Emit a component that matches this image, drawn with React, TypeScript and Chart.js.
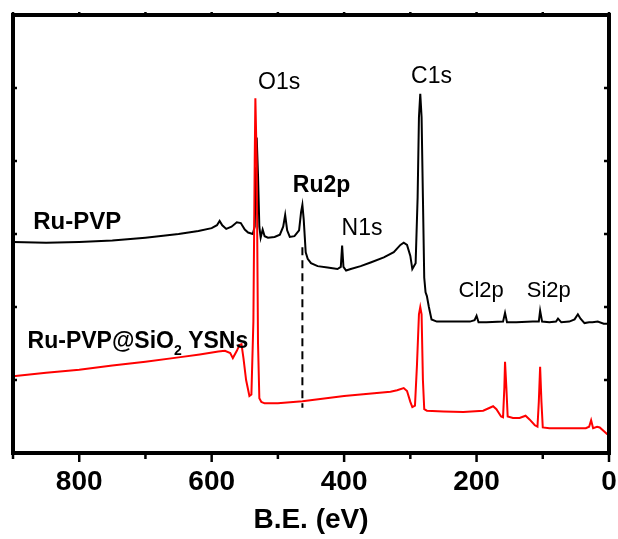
import React, { useEffect, useRef } from "react";
import { Chart, registerables } from "chart.js";

Chart.register(...registerables);

// ---- data ----
const ruPvpEnergy = [900, 850, 800, 750, 700, 650, 620, 600, 592, 588, 584, 578, 570, 562, 556, 550, 545, 538, 535, 533, 532, 530, 528, 526, 523, 520, 515, 505, 497, 492, 489, 486, 482, 475, 468, 465, 463, 461, 458, 455, 450, 440, 425, 410, 405, 403, 401, 397, 390, 375, 360, 340, 325, 315, 310, 305, 300, 297, 292, 289, 287, 285, 283, 281, 279, 277, 275, 272, 268, 260, 230, 210, 203, 200, 197, 185, 160, 157, 154, 140, 115, 106, 104, 101, 90, 80, 77, 72, 60, 52, 47, 43, 37, 30, 25, 17, 8, 3, 0];
const ruPvpCounts = [2.89, 2.88, 2.89, 2.91, 2.95, 3.0, 3.04, 3.08, 3.12, 3.18, 3.12, 3.07, 3.1, 3.16, 3.15, 3.06, 3.02, 3.0, 3.1, 3.9, 4.32, 3.8, 3.1, 2.95, 3.06, 2.97, 2.95, 2.96, 2.99, 3.1, 3.26, 3.05, 2.96, 2.97, 3.05, 3.3, 3.4, 3.2, 2.75, 2.66, 2.6, 2.56, 2.54, 2.52, 2.55, 2.84, 2.55, 2.5, 2.52, 2.56, 2.61, 2.68, 2.75, 2.85, 2.88, 2.85, 2.7, 2.52, 2.6, 3.5, 4.6, 4.92, 4.6, 3.5, 2.4, 2.2, 2.15, 2.0, 1.83, 1.8, 1.8, 1.8, 1.82, 1.88, 1.79, 1.79, 1.8, 1.92, 1.79, 1.79, 1.8, 1.8, 1.95, 1.8, 1.79, 1.8, 1.84, 1.79, 1.8, 1.83, 1.9, 1.84, 1.78, 1.79, 1.79, 1.8, 1.77, 1.77, 1.79];

const ruSiEnergy = [900, 850, 800, 750, 700, 650, 618, 590, 580, 572, 568, 562, 558, 555, 552, 548, 543, 540, 537, 535, 534, 532, 530, 528, 525, 520, 500, 463, 400, 330, 320, 310, 305, 300, 297, 293, 290, 287, 285, 283, 281, 279, 275, 250, 220, 190, 180, 175, 170, 163, 160, 158, 157, 155, 153, 145, 135, 126, 120, 112, 108, 106, 104, 102, 100, 90, 60, 35, 30, 27, 24, 18, 14, 8, 3, 0];
const ruSiCounts = [1.05, 1.1, 1.14, 1.2, 1.25, 1.31, 1.35, 1.39, 1.4, 1.37, 1.3, 1.4, 1.48, 1.49, 1.3, 1.0, 0.78, 0.8, 1.8, 4.0, 4.86, 4.0, 1.5, 0.75, 0.7, 0.68, 0.68, 0.71, 0.78, 0.84, 0.86, 0.89, 0.85, 0.7, 0.63, 0.65, 1.2, 1.9, 2.0, 1.9, 1.0, 0.6, 0.58, 0.57, 0.56, 0.58, 0.62, 0.64, 0.6, 0.5, 0.49, 0.9, 1.25, 0.9, 0.5, 0.48, 0.48, 0.51, 0.46, 0.38, 0.36, 0.7, 1.18, 0.7, 0.35, 0.34, 0.34, 0.34, 0.36, 0.45, 0.34, 0.36, 0.35, 0.3, 0.26, 0.26];

const ru2pMarkerEnergy = [463, 463];
const ru2pMarkerCounts = [2.82, 0.62];

const xTickValues = [800, 600, 400, 200, 0];

const annotationTexts = ["O1s", "C1s", "Ru2p", "N1s", "Ru-PVP", "Cl2p", "Si2p", "Ru-PVP@SiO_2 YSNs"];
const annotationEnergy = [498, 268, 434, 373, 803, 193, 91, 878];
const annotationCounts = [5.07, 5.16, 3.66, 3.07, 3.16, 2.22, 2.22, 1.53];

// ---- styles (not data) ----
const FONT = "'Liberation Sans', Arial, sans-serif";
const annotationStyle = [
  { bold: false, size: 23, align: "center" },
  { bold: false, size: 23, align: "center" },
  { bold: true, size: 23, align: "center" },
  { bold: false, size: 23, align: "center" },
  { bold: true, size: 24, align: "center" },
  { bold: false, size: 22, align: "center" },
  { bold: false, size: 22, align: "center" },
  { bold: true, size: 23, align: "left" },
];

const zip = (xs: number[], ys: number[]) => xs.map((x, i) => ({ x, y: ys[i] }));

const framePlugin = {
  id: "frame",
  afterDatasetsDraw(chart: any) {
    const { ctx, chartArea: a, scales } = chart;
    const xs = scales.x;
    const ys = scales.y;
    ctx.save();
    // annotations
    annotationTexts.forEach((t, i) => {
      const st = annotationStyle[i];
      const px = xs.getPixelForValue(annotationEnergy[i]);
      const py = ys.getPixelForValue(annotationCounts[i]);
      ctx.fillStyle = "#000";
      ctx.textBaseline = "middle";
      const parts = t.split(/_(\S)/);
      const mainFont = `${st.bold ? "bold " : ""}${st.size}px ${FONT}`;
      const subFont = `${st.bold ? "bold " : ""}${Math.round(st.size * 0.62)}px ${FONT}`;
      let total = 0;
      parts.forEach((p, k) => {
        ctx.font = k % 2 === 1 ? subFont : mainFont;
        total += ctx.measureText(p).width;
      });
      let x = st.align === "center" ? px - total / 2 : px;
      ctx.textAlign = "left";
      parts.forEach((p, k) => {
        const sub = k % 2 === 1;
        ctx.font = sub ? subFont : mainFont;
        ctx.fillText(p, x, sub ? py + st.size * 0.42 : py);
        x += ctx.measureText(p).width;
      });
    });
    // frame
    ctx.strokeStyle = "#000";
    ctx.lineWidth = 4;
    ctx.strokeRect(a.left, a.top, a.right - a.left, a.bottom - a.top);
    // ticks
    ctx.lineWidth = 2.5;
    for (let v = 0; v <= 900; v += 100) {
      const px = xs.getPixelForValue(v);
      const len = v % 200 === 0 ? 9 : 6;
      ctx.beginPath();
      ctx.moveTo(px, a.bottom);
      ctx.lineTo(px, a.bottom + len);
      ctx.stroke();
      ctx.beginPath();
      ctx.moveTo(px, a.top);
      ctx.lineTo(px, a.top - 3);
      ctx.stroke();
    }
    for (let v = 1; v < 6; v++) {
      const py = ys.getPixelForValue(v);
      ctx.beginPath();
      ctx.moveTo(a.left, py);
      ctx.lineTo(a.left + 4, py);
      ctx.stroke();
      ctx.beginPath();
      ctx.moveTo(a.right, py);
      ctx.lineTo(a.right - 5, py);
      ctx.stroke();
    }
    ctx.restore();
  },
};

export default function App() {
  const ref = useRef<HTMLCanvasElement | null>(null);
  useEffect(() => {
    if (!ref.current) return;
    Chart.defaults.font.family = FONT;
    const chart = new Chart(ref.current, {
      type: "line",
      data: {
        datasets: [
          {
            label: "Ru-PVP@SiO2 YSNs",
            data: zip(ruSiEnergy, ruSiCounts),
            borderColor: "#ff0000",
            borderWidth: 2,
            pointRadius: 0,
            tension: 0,
          },
          {
            label: "Ru-PVP",
            data: zip(ruPvpEnergy, ruPvpCounts),
            borderColor: "#000000",
            borderWidth: 2,
            pointRadius: 0,
            tension: 0,
          },
          {
            label: "Ru2p",
            data: zip(ru2pMarkerEnergy, ru2pMarkerCounts),
            borderColor: "#000000",
            borderWidth: 2,
            borderDash: [8, 5],
            pointRadius: 0,
          },
        ],
      },
      options: {
        responsive: false,
        animation: false,
        layout: { padding: { left: 13, right: 9, top: 15, bottom: 0 } },
        plugins: { legend: { display: false }, tooltip: { enabled: false } },
        scales: {
          x: {
            type: "linear",
            min: 0,
            max: 900,
            reverse: true,
            grid: { display: false, drawTicks: false },
            border: { display: false },
            afterBuildTicks: (scale: any) => {
              scale.ticks = xTickValues.map((v) => ({ value: v }));
            },
            afterFit: (scale: any) => {
              scale.height = 86;
              scale.paddingLeft = 0;
              scale.paddingRight = 0;
            },
            ticks: {
              color: "#000",
              font: { size: 28, weight: "bold" },
              padding: 12,
              maxRotation: 0,
              autoSkip: false,
            },
            title: {
              display: true,
              text: "B.E. (eV)",
              color: "#000",
              font: { size: 28, weight: "bold" },
              padding: { top: 0, bottom: 2 },
            },
          },
          y: {
            display: false,
            min: 0,
            max: 6,
          },
        },
      },
      plugins: [framePlugin],
    });
    return () => chart.destroy();
  }, []);
  return (
    <div style={{ position: "fixed", left: 0, top: 0, width: 618, height: 539, background: "#fff" }}>
      <canvas ref={ref} width={618} height={539} style={{ display: "block" }} />
    </div>
  );
}
